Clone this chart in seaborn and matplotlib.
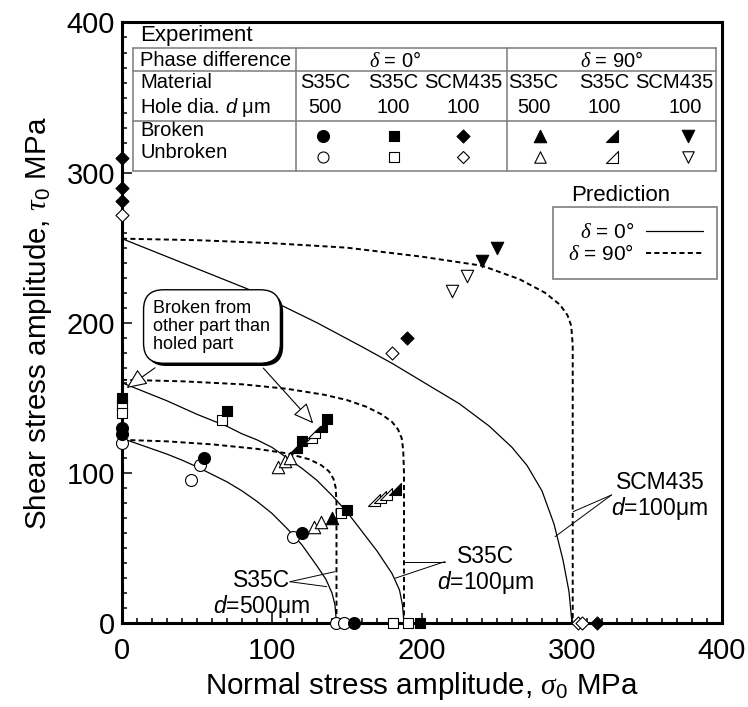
import numpy as np
import pandas as pd
import matplotlib
matplotlib.use("Agg")
import matplotlib.pyplot as plt
import seaborn as sns
from matplotlib.path import Path
from matplotlib.lines import Line2D
import matplotlib.patheffects as pe

sns.set_style("ticks")
plt.rcParams["font.family"] = ["Liberation Sans", "DejaVu Sans"]
plt.rcParams["mathtext.fontset"] = "custom"
plt.rcParams["mathtext.rm"] = "Liberation Sans"
plt.rcParams["mathtext.it"] = "Liberation Sans:italic"
plt.rcParams["mathtext.sf"] = "Liberation Serif:italic"
for key in ("text.color", "axes.labelcolor", "xtick.color", "ytick.color", "axes.edgecolor"):
    plt.rcParams[key] = "black"

# ---------------- prediction curves (sigma_0, tau_0 in MPa) ----------------
# delta = 0 deg (solid)
s500_d0_sigma = [0, 10, 20, 30, 40, 50, 60, 70, 80, 90, 100, 110, 120, 130, 136, 140, 142, 143]
s500_d0_tau = [123, 119.5, 116, 112.5, 108.5, 104, 99, 94, 88, 81, 73, 63, 52, 38, 29, 20, 12, 0]
s100_d0_sigma = [0, 10, 20, 30, 40, 50, 60, 70, 80, 90, 100, 110, 120, 130, 140, 150, 160, 170, 180, 185, 187, 188]
s100_d0_tau = [160, 156, 152, 148, 143.5, 139, 135, 131, 126, 122, 117, 110, 103, 95, 85, 74, 61, 48, 33, 22, 12, 0]
scm_d0_sigma = [0, 40, 85, 130, 160, 180, 200, 225, 245, 260, 270, 280, 288, 294, 298, 300]
scm_d0_tau = [256, 240, 222, 200, 184, 173, 161, 146, 131, 117, 105, 88, 66, 42, 21, 0]
# delta = 90 deg (dashed)
s500_d90_sigma = [0, 30, 60, 90, 110, 125, 133, 138, 141, 142.5, 143, 143]
s500_d90_tau = [122, 121, 119, 116, 113, 109, 105, 101, 96, 90, 80, 0]
s100_d90_sigma = [0, 40, 80, 110, 135, 150, 163, 173, 180, 184, 186.5, 187.5, 188, 188]
s100_d90_tau = [162, 161, 159, 156, 152, 148.5, 144, 139, 134, 129, 123, 115, 100, 0]
scm_d90_sigma = [0, 50, 100, 150, 200, 240, 265, 282, 292, 297, 299.5, 300.5, 300.5]
scm_d90_tau = [256, 255, 253, 250, 244, 238, 229, 220, 212, 205, 198, 185, 0]

# ---------------- experiments ----------------
# S35C, d = 500 um, delta = 0
circ_b_sigma = [0, 0, 55, 120, 155]
circ_b_tau = [130, 126, 110, 60, 0]
circ_u_sigma = [0, 52, 46, 114, 143, 148]
circ_u_tau = [120, 105, 95, 57, 0, 0]
# S35C, d = 100 um, delta = 0
sq_b_sigma = [0, 70, 120, 137, 150, 199]
sq_b_tau = [150, 141, 121, 136, 75, 0]
sq_u_sigma = [0, 0, 67, 146, 181, 191]
sq_u_tau = [145, 140, 135, 73, 0, 0]
# SCM435, d = 100 um, delta = 0
dia_b_sigma = [0, 0, 0, 190, 317]
dia_b_tau = [310, 290, 281, 190, 0]
dia_u_sigma = [0, 180, 304, 307]
dia_u_tau = [272, 180, 0, 0]
# S35C, d = 500 um, delta = 90
tri_b_sigma = [140]
tri_b_tau = [70]
tri_u_sigma = [104, 109, 112, 128, 133]
tri_u_tau = [104, 108, 110, 64, 67]
# S35C, d = 100 um, delta = 90
rt_b_sigma = [116, 133, 182]
rt_b_tau = [117, 131, 89]
rt_u_sigma = [126, 128, 168, 172, 176]
rt_u_tau = [124, 127, 82, 84, 86]
# SCM435, d = 100 um, delta = 90
tdn_b_sigma = [250, 240]
tdn_b_tau = [250, 241]
tdn_u_sigma = [230, 220]
tdn_u_tau = [231, 221]

# table texts
materials = ["S35C", "S35C", "SCM435", "S35C", "S35C", "SCM435"]
hole_dias = ["500", "100", "100", "500", "100", "100"]

RT = Path([(-1, -1), (1, -1), (1, 1), (-1, -1)],
          [Path.MOVETO, Path.LINETO, Path.LINETO, Path.CLOSEPOLY])

fig, ax = plt.subplots(figsize=(7.48, 7.07), dpi=100)
fig.subplots_adjust(left=0.1631, right=0.9652, bottom=0.1188, top=0.9682)

# prediction curves
solid_kw = dict(color="black", lw=0.9, sort=False, estimator=None, ax=ax, zorder=3)
dash_kw = dict(color="black", lw=1.4, sort=False, estimator=None, ax=ax, zorder=3,
               linestyle=(0, (2.6, 1.7)))
for xs, ys in [(s500_d0_sigma, s500_d0_tau), (s100_d0_sigma, s100_d0_tau), (scm_d0_sigma, scm_d0_tau)]:
    sns.lineplot(x=xs, y=ys, **solid_kw)
for xs, ys in [(s500_d90_sigma, s500_d90_tau), (s100_d90_sigma, s100_d90_tau), (scm_d90_sigma, scm_d90_tau)]:
    sns.lineplot(x=xs, y=ys, **dash_kw)

# experimental points
groups = [
    (circ_u_sigma, circ_u_tau, "o", 74, False),
    (circ_b_sigma, circ_b_tau, "o", 74, True),
    (sq_u_sigma, sq_u_tau, "s", 52, False),
    (sq_b_sigma, sq_b_tau, "s", 52, True),
    (dia_u_sigma, dia_u_tau, "D", 44, False),
    (dia_b_sigma, dia_b_tau, "D", 44, True),
    (tri_u_sigma, tri_u_tau, "^", 80, False),
    (tri_b_sigma, tri_b_tau, "^", 80, True),
    (rt_u_sigma, rt_u_tau, RT, 74, False),
    (rt_b_sigma, rt_b_tau, RT, 74, True),
    (tdn_u_sigma, tdn_u_tau, "v", 80, False),
    (tdn_b_sigma, tdn_b_tau, "v", 80, True),
]
for xs, ys, mk, size, filled in groups:
    sns.scatterplot(x=xs, y=ys, ax=ax, marker=mk, s=size,
                    facecolor="black" if filled else "white", edgecolor="black",
                    linewidth=0.8, zorder=6, clip_on=False)

ax.set_xlim(0, 400)
ax.set_ylim(0, 400)
ax.set_xticks(np.arange(0, 401, 100))
ax.set_yticks(np.arange(0, 401, 100))
ax.set_xticks(np.arange(0, 401, 10), minor=True)
ax.set_yticks(np.arange(0, 401, 10), minor=True)
ax.tick_params(which="both", direction="in", top=False, right=False, width=1.1)
ax.tick_params(which="major", length=7, labelsize=21, pad=5)
ax.tick_params(axis="x", which="major", pad=10)
ax.tick_params(which="minor", length=3.5)
for sp in ax.spines.values():
    sp.set_visible(True)
    sp.set_linewidth(2.2)
ax.set_xlabel(r"Normal stress amplitude, $\mathsf{\sigma}_0$ MPa", fontsize=21.3, labelpad=4)
ax.set_ylabel(r"Shear stress amplitude, $\mathsf{\tau}_0$ MPa", fontsize=21.3, labelpad=9)

# ---------------- experiment table ----------------
tc = "#7a7a7a"
tlw = 1.1
x_l, x_r, x_c1, x_c2 = 0.0178, 0.99, 0.2892, 0.6422
y_top, y_h1, y_h2, y_bot = 0.9567, 0.92, 0.8367, 0.7533
for yy in (y_top, y_h1, y_h2, y_bot):
    ax.plot([x_l, x_r], [yy, yy], transform=ax.transAxes, color=tc, lw=tlw, clip_on=False, zorder=4)
for xx in (x_l, x_r, x_c1, x_c2):
    ax.plot([xx, xx], [y_top, y_bot], transform=ax.transAxes, color=tc, lw=tlw, clip_on=False, zorder=4)

tfs = 14.5
ax.text(0.0308, 0.9775, "Experiment", transform=ax.transAxes, fontsize=16, va="center", ha="left")
ax.text(0.0308, 0.936, "Phase difference", transform=ax.transAxes, fontsize=tfs, va="center")
ax.text(0.4558, 0.936, r"$\mathsf{\delta}$ = 0°", transform=ax.transAxes, fontsize=tfs, va="center", ha="center")
ax.text(0.8162, 0.936, r"$\mathsf{\delta}$ = 90°", transform=ax.transAxes, fontsize=tfs, va="center", ha="center")
ax.text(0.0308, 0.900, "Material", transform=ax.transAxes, fontsize=tfs, va="center")
ax.text(0.0308, 0.8583, r"Hole dia. $d$ μm", transform=ax.transAxes, fontsize=tfs, va="center")
ax.text(0.0308, 0.820, "Broken", transform=ax.transAxes, fontsize=tfs, va="center")
ax.text(0.0308, 0.7838, "Unbroken", transform=ax.transAxes, fontsize=tfs, va="center")
col_x = [0.339, 0.4527, 0.5683, 0.6863, 0.8032, 0.92]
num_x = [0.339, 0.4527, 0.5683, 0.6863, 0.8032, 0.9393]
for cx, nx, mat, hd in zip(col_x, num_x, materials, hole_dias):
    ax.text(cx, 0.900, mat, transform=ax.transAxes, fontsize=tfs, va="center", ha="center")
    ax.text(nx, 0.8583, hd, transform=ax.transAxes, fontsize=tfs, va="center", ha="center")
key_x = [0.3358, 0.4527, 0.5683, 0.696, 0.816, 0.9427]
key_m = ["o", "s", "D", "^", RT, "v"]
key_s = [74, 52, 44, 80, 74, 80]
for kx, km, ks in zip(key_x, key_m, key_s):
    ax.scatter([kx], [0.8117], marker=km, s=ks, c="black", edgecolors="black", lw=0.8,
               transform=ax.transAxes, clip_on=False, zorder=6)
    ax.scatter([kx], [0.7755], marker=km, s=ks * 0.85, facecolors="white", edgecolors="black",
               lw=0.8, transform=ax.transAxes, clip_on=False, zorder=6)

# ---------------- prediction legend ----------------
handles = [Line2D([], [], color="black", lw=0.9),
           Line2D([], [], color="black", lw=1.4, linestyle=(0, (2.6, 1.7)))]
leg = ax.legend(handles, [r"$\mathsf{\delta}$ = 0°", r"$\mathsf{\delta}$ = 90°"],
                loc="upper right", bbox_to_anchor=(0.992, 0.692), borderaxespad=0,
                markerfirst=False, fontsize=15, handlelength=2.7, fancybox=False,
                frameon=True, edgecolor="#888888", framealpha=1,
                borderpad=0.7, labelspacing=0.1, handletextpad=0.6)
leg.get_frame().set_linewidth(1.3)
ax.text(0.748, 0.7117, "Prediction", transform=ax.transAxes, fontsize=16, va="center", ha="left")

# ---------------- callout ----------------
t = ax.text(60, 197.5, "Broken from\nother part than\nholed part", fontsize=13,
            ha="center", va="center", multialignment="left", linespacing=1.1, zorder=7,
            bbox=dict(boxstyle="round,pad=0.55,rounding_size=1.1", fc="white", ec="black", lw=1.0))
t.get_bbox_patch().set_path_effects([
    pe.SimplePatchShadow(offset=(2, -2), shadow_rgbFace="black", alpha=1.0), pe.Normal()])
arrow_kw = dict(arrowstyle="-|>,head_length=0.9,head_width=0.4", fc="white", ec="black",
                lw=0.8, shrinkA=0, shrinkB=0, mutation_scale=14)
ax.annotate("", xy=(3.1, 156.5), xytext=(22, 170), arrowprops=arrow_kw, zorder=7)
ax.annotate("", xy=(127.5, 133), xytext=(94.2, 169.8), arrowprops=arrow_kw, zorder=7)

# ---------------- curve labels ----------------
lab_fs = 16.5
ax.text(93, 18.7, "S35C\n$d$=500μm", fontsize=lab_fs, ha="center", va="center", linespacing=1.05)
ax.plot([112, 142], [27.5, 34.2], color="black", lw=0.7)
ax.plot([112, 136.5], [27.5, 24.2], color="black", lw=0.7)
ax.text(242.4, 35.3, "S35C\n$d$=100μm", fontsize=lab_fs, ha="center", va="center", linespacing=1.05)
ax.plot([215.3, 187.5], [40.9, 40.9], color="black", lw=0.7)
ax.plot([215.3, 182], [40.9, 29.8], color="black", lw=0.7)
ax.text(358.7, 84.2, "SCM435\n$d$=100μm", fontsize=lab_fs, ha="center", va="center", linespacing=1.05)
ax.plot([326.4, 300.9], [85.3, 74.2], color="black", lw=0.7)
ax.plot([326.4, 288.7], [85.3, 57.5], color="black", lw=0.7)

fig.savefig("out.png", dpi=100)
